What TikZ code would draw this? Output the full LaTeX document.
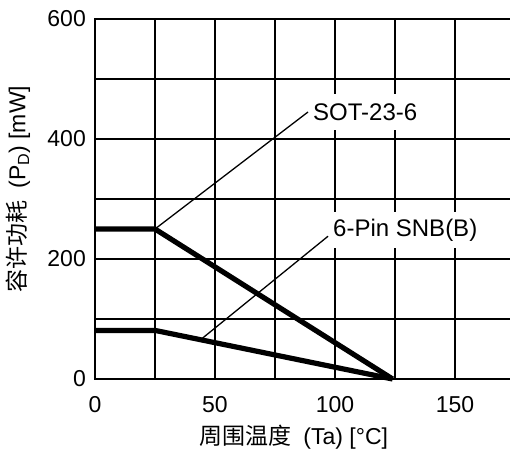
\documentclass[tikz,border=0pt]{standalone}
\usepackage{fontspec}
\setmainfont{Liberation Sans}
\newfontfamily\cjk{Noto Sans CJK SC}
\begin{document}
\begin{tikzpicture}[x=2.4pt, y=0.6pt, font=\fontsize{23}{27}\selectfont,
    gridline/.style={line width=2.8pt, line cap=rect},
    curve/.style={line width=5.2pt},
    leader/.style={line width=1.3pt},
    tag/.style={fill=white, inner xsep=5pt, minimum height=36pt, font=\fontsize{24}{28}\selectfont}]
    \useasboundingbox (-39.583,-118.333) rectangle (172.917,631.667);

    \foreach \x in {0,25,...,150} \draw[gridline] (\x,0) -- (\x,600);
    \foreach \y in {0,100,...,600} \draw[gridline] (0,\y) -- (172.917,\y);

    \foreach \x in {0,50,100,150} \node (xt\x) at (\x,-43.3) {\x};
    \foreach \y in {0,200,400,600} \node[anchor=east, inner sep=0pt] (yt\y) at (-3.75,\y) {\y};

    % derating curves
    \coordinate (sotknee) at (25,250);
    \coordinate (snbknee) at (25,81);
    \coordinate (zero) at (124,0);
    \coordinate (snbpt) at (44,65.5);
    \draw[curve] (0,250) -- (sotknee) -- (zero);
    \draw[curve] (0,81) -- (snbknee) -- (zero);

    \node[tag, anchor=west] (sot) at (88.75,445) {SOT-23-6};
    \node[tag, anchor=west] (snb) at (97.1,248.3) {6-Pin SNB(B)};
    \draw[leader] (sotknee) -- (sot.west);
    \draw[leader] (snbpt) -- (snb.base west);

    \node[rotate=90] (ylabel) at (-32.08,316.7) {{\cjk 容许功耗}\hspace{0.5em}(P\textsubscript{D}) [mW]};
    \node (xlabel) at (82.9,-96.7) {{\cjk 周围温度}\hspace{0.5em}(Ta) [°C]};
\end{tikzpicture}
\end{document}
